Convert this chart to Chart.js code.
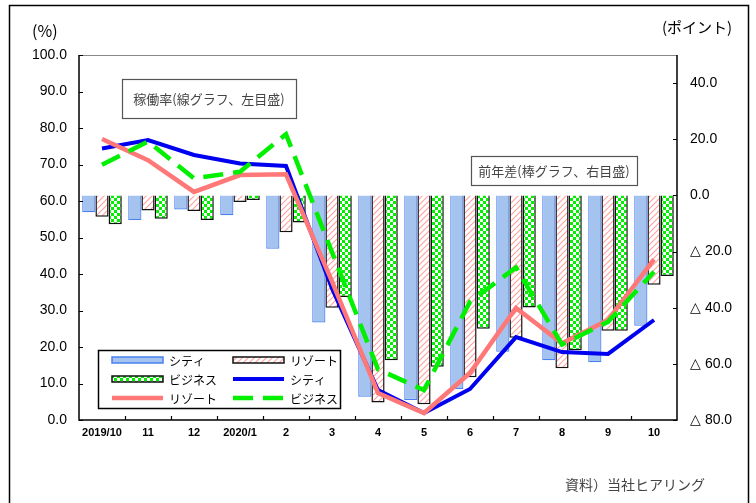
<!DOCTYPE html>
<html>
<head>
<meta charset="utf-8">
<script src="https://cdn.jsdelivr.net/npm/chart.js@4.4.1/dist/chart.umd.min.js"></script>
<style>
  body { margin: 0; background: #fff; }
  #wrap { width: 756px; height: 503px; position: relative; }
</style>
</head>
<body>
<div id="wrap"><canvas id="chart"></canvas></div>
<script>
// data
const months = ['2019/10', '11', '12', '2020/1', '2', '3', '4', '5', '6', '7', '8', '9', '10'];

// 稼働率 (%), left axis
const rateCity = [74.4, 76.7, 72.6, 70.3, 69.6, 36.0, 8.2, 1.9, 8.5, 22.7, 18.6, 18.1, 27.4];
const rateResort = [77.0, 71.2, 62.5, 67.1, 67.3, 38.0, 7.4, 1.9, 12.9, 30.7, 21.0, 27.4, 44.0];
const rateBusiness = [69.9, 76.3, 66.2, 68.0, 78.3, 46.0, 13.9, 8.2, 32.4, 41.8, 20.7, 26.9, 40.6];

// 前年差 (ポイント), right axis
const diffCity = [-6.0, -8.8, -5.0, -7.1, -19.0, -45.3, -71.7, -72.9, -69.0, -55.7, -58.7, -59.4, -46.4];
const diffResort = [-7.6, -5.4, -5.6, -2.4, -13.1, -40.0, -73.8, -74.4, -64.8, -50.7, -61.6, -48.2, -31.8];
const diffBusiness = [-10.3, -8.3, -8.8, -1.6, -9.7, -36.2, -58.7, -61.0, -47.5, -39.9, -55.2, -48.2, -28.7];

const leftTicks = [0, 10, 20, 30, 40, 50, 60, 70, 80, 90, 100];
const rightTicks = [-80, -60, -40, -20, 0, 20, 40];

const JP = '"Noto Sans CJK JP", sans-serif';
const NUM = '"Liberation Sans", Arial, sans-serif';

// fill patterns
function makeTile(w, h, draw) {
  const c = document.createElement('canvas');
  c.width = w; c.height = h;
  draw(c.getContext('2d'));
  return c.getContext('2d').createPattern(c, 'repeat');
}

const hatch = makeTile(6, 6, g => {
  g.fillStyle = '#fff';
  g.fillRect(0, 0, 6, 6);
  g.strokeStyle = '#ffa3a3';
  g.lineWidth = 1.2;
  g.beginPath();
  g.moveTo(-1, 7); g.lineTo(7, -1);
  g.moveTo(-4, 4); g.lineTo(4, -4);
  g.moveTo(2, 10); g.lineTo(10, 2);
  g.stroke();
});

const checker = makeTile(6, 6, g => {
  g.fillStyle = '#fff';
  g.fillRect(0, 0, 6, 6);
  g.fillStyle = '#00f000';
  g.fillRect(0, 0, 3, 3);
  g.fillRect(3, 3, 3, 3);
});

const PINK = '#ff7878';
const CITY_FILL = '#a5c3ef';
const CITY_EDGE = '#4a80f0';

// frame, inward ticks, text boxes, legend and notes
const decor = {
  id: 'decor',
  beforeDraw(chart) {
    const g = chart.ctx;
    g.save();
    g.fillStyle = '#fff';
    g.fillRect(0, 0, chart.width, chart.height);
    g.restore();
  },
  afterDraw(chart) {
    const g = chart.ctx;
    const a = chart.chartArea;
    const x = chart.scales.x, y = chart.scales.y, y1 = chart.scales.y1;
    g.save();

    // outer frame
    g.strokeStyle = '#000';
    g.lineWidth = 1.5;
    g.beginPath();
    g.moveTo(9.5, 510); g.lineTo(9.5, 5.5); g.lineTo(748.5, 5.5); g.lineTo(748.5, 510);
    g.stroke();

    // plot frame
    g.strokeStyle = '#888';
    g.lineWidth = 1;
    g.beginPath();
    g.moveTo(a.left, a.top + 0.5); g.lineTo(a.right, a.top + 0.5);
    g.stroke();
    g.strokeStyle = '#000';
    g.lineWidth = 1.5;
    g.beginPath();
    g.moveTo(a.left, a.top); g.lineTo(a.left, a.bottom); g.lineTo(a.right, a.bottom); g.lineTo(a.right, a.top);
    g.stroke();

    // inward ticks
    g.lineWidth = 1.2;
    g.beginPath();
    leftTicks.forEach(v => {
      const p = Math.round(y.getPixelForValue(v)) + 0.5;
      g.moveTo(a.left, p); g.lineTo(a.left + 4, p);
    });
    rightTicks.forEach(v => {
      const p = Math.round(y1.getPixelForValue(v)) + 0.5;
      g.moveTo(a.right, p); g.lineTo(a.right - 4, p);
    });
    for (let i = 0; i < months.length - 1; i++) {
      const p = Math.round((x.getPixelForValue(i) + x.getPixelForValue(i + 1)) / 2) + 0.5;
      g.moveTo(p, a.bottom); g.lineTo(p, a.bottom - 4);
    }
    g.stroke();

    // axis units
    g.fillStyle = '#000';
    g.textBaseline = 'middle';
    g.textAlign = 'left';
    g.font = '16px ' + JP;
    g.fillText('(%)', 32, 31);
    g.font = '15px ' + JP;
    g.fillText('(ポイント)', 662, 27);

    // note boxes
    function noteBox(text, x0, y0, w, h) {
      g.fillStyle = '#fff';
      g.fillRect(x0, y0, w, h);
      g.strokeStyle = '#555';
      g.lineWidth = 1.2;
      g.strokeRect(x0 + 0.5, y0 + 0.5, w, h);
      g.fillStyle = '#444';
      g.font = '13px ' + JP;
      g.textAlign = 'center';
      g.fillText(text, x0 + w / 2, y0 + h / 2 + 1);
    }
    noteBox('稼働率(線グラフ、左目盛)', 122, 79, 174, 39);
    noteBox('前年差(棒グラフ、右目盛)', 471, 156, 166, 29);

    // source
    g.fillStyle = '#444';
    g.font = '14px ' + JP;
    g.textAlign = 'left';
    g.fillText('資料）当社ヒアリング', 565, 485);

    // legend
    g.fillStyle = '#fff';
    g.fillRect(98, 350, 243, 58);
    g.strokeStyle = '#000';
    g.lineWidth = 1.5;
    g.strokeRect(98.5, 350.5, 242, 58);

    const ds = chart.data.datasets;
    const cells = [
      { d: ds[3], x: 112, y: 360 },
      { d: ds[4], x: 233, y: 360 },
      { d: ds[5], x: 112, y: 379 },
      { d: ds[2], x: 233, y: 379 },
      { d: ds[1], x: 112, y: 398 },
      { d: ds[0], x: 233, y: 398 }
    ];
    cells.forEach(c => {
      const d = c.d;
      if (d.type === 'bar') {
        g.fillStyle = d.backgroundColor;
        g.fillRect(c.x, c.y - 3, 51, 6);
        g.strokeStyle = d.borderColor;
        g.lineWidth = 1.5;
        g.strokeRect(c.x, c.y - 3, 51, 6);
      } else {
        g.strokeStyle = d.borderColor;
        g.lineWidth = d.borderWidth;
        g.setLineDash(d.borderDash || []);
        g.beginPath();
        g.moveTo(c.x, c.y); g.lineTo(c.x + 51, c.y);
        g.stroke();
        g.setLineDash([]);
      }
      g.fillStyle = '#000';
      g.font = '12px ' + JP;
      g.textAlign = 'left';
      g.fillText(d.label, c.x + 57, c.y + 1);
    });

    g.restore();
  }
};

const ctx = document.getElementById('chart').getContext('2d');
new Chart(ctx, {
  data: {
    labels: months,
    datasets: [
      { type: 'line', label: 'ビジネス', data: rateBusiness, yAxisID: 'y', order: 0,
        borderColor: '#00f000', borderWidth: 4.5, borderDash: [20, 10], borderCapStyle: 'butt',
        pointRadius: 0, tension: 0, fill: false },
      { type: 'line', label: 'リゾート', data: rateResort, yAxisID: 'y', order: 1,
        borderColor: PINK, borderWidth: 4.5, pointRadius: 0, tension: 0, fill: false },
      { type: 'line', label: 'シティ', data: rateCity, yAxisID: 'y', order: 2,
        borderColor: '#0000f0', borderWidth: 4, pointRadius: 0, tension: 0, fill: false },
      { type: 'bar', label: 'シティ', data: diffCity, yAxisID: 'y1', order: 3,
        backgroundColor: CITY_FILL, borderColor: CITY_EDGE, borderWidth: 1.2 },
      { type: 'bar', label: 'リゾート', data: diffResort, yAxisID: 'y1', order: 3,
        backgroundColor: hatch, borderColor: '#111', borderWidth: 1.5 },
      { type: 'bar', label: 'ビジネス', data: diffBusiness, yAxisID: 'y1', order: 3,
        backgroundColor: checker, borderColor: '#111', borderWidth: 1.5 }
    ]
  },
  options: {
    responsive: true,
    maintainAspectRatio: false,
    animation: false,
    layout: { padding: { top: 55, bottom: 53, left: 0, right: 0 } },
    datasets: { bar: { categoryPercentage: 0.86, barPercentage: 1.0 } },
    plugins: {
      legend: { display: false },
      tooltip: { enabled: false }
    },
    scales: {
      x: {
        grid: { display: false, drawTicks: false },
        border: { display: false },
        ticks: { color: '#000', padding: 6, maxRotation: 0, autoSkip: false,
          font: { family: NUM, size: 11, weight: 'bold' } },
        afterFit(s) { s.height = 30; }
      },
      y: {
        position: 'left',
        min: 0, max: 100,
        grid: { display: false, drawTicks: false },
        border: { display: false },
        afterBuildTicks(s) { s.ticks = leftTicks.map(v => ({ value: v })); },
        ticks: { color: '#000', padding: 12, font: { family: NUM, size: 14 },
          callback: v => v.toFixed(1) },
        afterFit(s) { s.width = 79; }
      },
      y1: {
        position: 'right',
        min: -80, max: 50,
        grid: { display: false, drawTicks: false },
        border: { display: false },
        afterBuildTicks(s) { s.ticks = rightTicks.map(v => ({ value: v })); },
        ticks: { color: '#000', padding: 13, font: { family: NUM, size: 14 },
          callback: v => v < 0 ? '△ ' + (-v).toFixed(1) : v.toFixed(1) },
        afterFit(s) { s.width = 79; }
      }
    }
  },
  plugins: [decor]
});
</script>
</body>
</html>
